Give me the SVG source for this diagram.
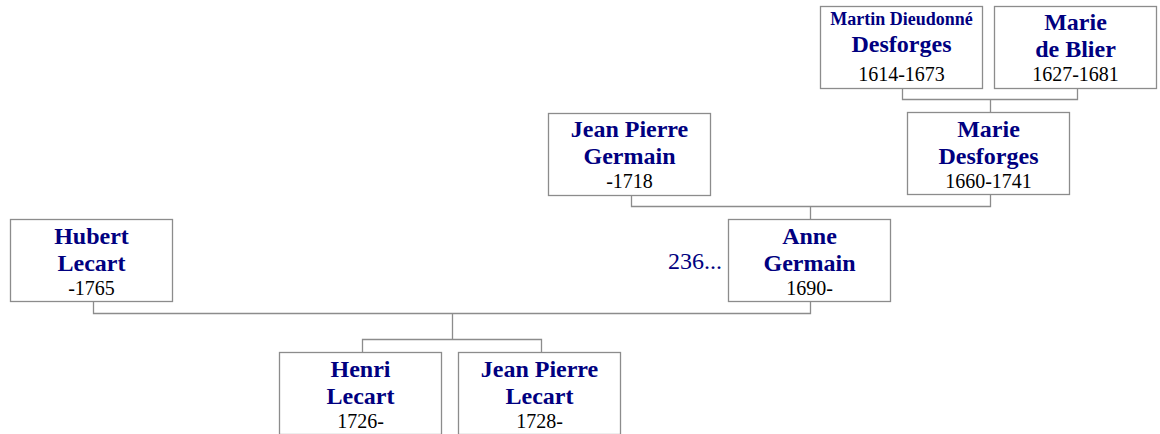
<svg xmlns="http://www.w3.org/2000/svg" width="1160" height="434" viewBox="0 0 1160 434">
<style>
.box{fill:#fff;stroke:#8c8c8c;stroke-width:1.3}
.con{fill:none;stroke:#8c8c8c;stroke-width:1.3}
.nm{font-family:"Liberation Serif",serif;font-weight:bold;font-size:24px;fill:#000080;text-anchor:middle}
.sm{font-size:18px}
.yr{font-family:"Liberation Serif",serif;font-size:20px;fill:#000;text-anchor:middle}
.more{font-family:"Liberation Serif",serif;font-size:24px;fill:#000080;text-anchor:end}
</style>
<rect width="1160" height="434" fill="#fff"/>
<g id="connectors">
<path class="con" d="M902.5,88 V99.5 H1077.5 V88 M990.5,99.5 V112"/>
<path class="con" d="M631.5,196 V206.5 H990.5 V195 M810.5,206.5 V219"/>
<path class="con" d="M93.5,302 V313.5 H810.5 V302 M452.5,313.5 V339"/>
<path class="con" d="M362.5,352 V339.5 H541.5 V352"/>
</g>
<g id="martin-dieudonne-desforges">
<rect class="box" x="820.5" y="6.5" width="162" height="82"/>
<text class="nm sm" x="901.5" y="25">Martin Dieudonné</text>
<text class="nm" x="901.5" y="52">Desforges</text>
<text class="yr" x="901.5" y="81">1614-1673</text>
</g>
<g id="marie-de-blier">
<rect class="box" x="994.5" y="6.5" width="162" height="82"/>
<text class="nm" x="1075.5" y="30">Marie</text>
<text class="nm" x="1075.5" y="57">de Blier</text>
<text class="yr" x="1075.5" y="81">1627-1681</text>
</g>
<g id="jean-pierre-germain">
<rect class="box" x="548.5" y="113.5" width="162" height="82"/>
<text class="nm" x="629.5" y="137">Jean Pierre</text>
<text class="nm" x="629.5" y="164">Germain</text>
<text class="yr" x="629.5" y="188">-1718</text>
</g>
<g id="marie-desforges">
<rect class="box" x="907.5" y="112.5" width="162" height="82"/>
<text class="nm" x="988.5" y="137">Marie</text>
<text class="nm" x="988.5" y="164">Desforges</text>
<text class="yr" x="988.5" y="188">1660-1741</text>
</g>
<g id="anne-germain">
<rect class="box" x="728.5" y="219.5" width="162" height="82"/>
<text class="nm" x="809.5" y="244">Anne</text>
<text class="nm" x="809.5" y="271">Germain</text>
<text class="yr" x="809.5" y="295">1690-</text>
<text class="more" x="722" y="269">236...</text>
</g>
<g id="hubert-lecart">
<rect class="box" x="10.5" y="219.5" width="162" height="82"/>
<text class="nm" x="91.5" y="244">Hubert</text>
<text class="nm" x="91.5" y="271">Lecart</text>
<text class="yr" x="91.5" y="295">-1765</text>
</g>
<g id="henri-lecart">
<rect class="box" x="279.5" y="352.5" width="162" height="82"/>
<text class="nm" x="360.5" y="377">Henri</text>
<text class="nm" x="360.5" y="404">Lecart</text>
<text class="yr" x="360.5" y="428">1726-</text>
</g>
<g id="jean-pierre-lecart">
<rect class="box" x="458.5" y="352.5" width="162" height="82"/>
<text class="nm" x="539.5" y="377">Jean Pierre</text>
<text class="nm" x="539.5" y="404">Lecart</text>
<text class="yr" x="539.5" y="428">1728-</text>
</g>
</svg>
